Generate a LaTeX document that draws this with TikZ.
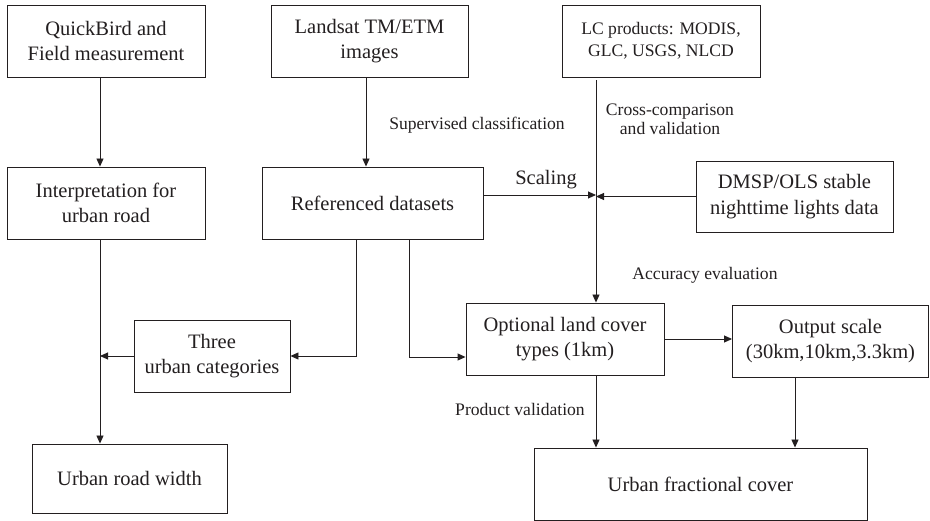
\documentclass[tikz,border=0pt]{standalone}
\usepackage{fontspec}
\setmainfont{Liberation Serif}
\usetikzlibrary{arrows.meta,calc}
\definecolor{ink}{RGB}{35,31,32}
\tikzset{
  box/.style={draw=ink, line width=0.9pt, rectangle, inner sep=0pt, align=center,
    text=ink, font=\fontsize{20.5}{25.5}\selectfont},
  smallbox/.style={box, font=\fontsize{17.6}{22}\selectfont},
  lbl/.style={text=ink, align=center, inner sep=0pt, font=\fontsize{17.6}{19}\selectfont},
  biglbl/.style={text=ink, inner sep=0pt, font=\fontsize{20.5}{25.5}\selectfont},
  conn/.style={draw=ink, line width=0.9pt},
  arr/.style={conn, -{Triangle[length=8pt,width=7pt]}}
}
\begin{document}
\begin{tikzpicture}[x=1pt,y=-1pt]
\useasboundingbox (0,0) rectangle (930,521);
\node[box, minimum width=198pt, minimum height=72pt] (b1) at (106,41) {QuickBird and\\Field measurement};
\node[box, minimum width=197pt, minimum height=72pt] (b2) at (369.5,41) {Landsat TM/ETM\\images};
\node[smallbox, minimum width=198pt, minimum height=72pt] (b3) at (661,41) {LC products: MODIS,\\GLC, USGS, NLCD};
\node[box, minimum width=198pt, minimum height=72pt] (b4) at (106,203) {Interpretation for\\urban road};
\node[box, minimum width=221pt, minimum height=72pt] (b5) at (372.5,203) {Referenced datasets};
\node[box, minimum width=197pt, minimum height=71pt] (b6) at (794.5,196.5) {DMSP/OLS stable\\nighttime lights data};
\node[box, minimum width=156pt, minimum height=72pt] (b7) at (212,356) {Three\\urban categories};
\node[box, minimum width=195pt, minimum height=69pt] (b8) at (129.5,478.5) {Urban road width};
\node[box, minimum width=198pt, minimum height=72pt] (b9) at (565,339) {Optional land cover\\types (1km)};
\node[box, minimum width=196pt, minimum height=72pt] (b10) at (830.5,341) {Output scale\\(30km,10km,3.3km)};
\node[box, minimum width=333pt, minimum height=72pt] (b11) at (700.5,484) {Urban fractional cover};

% coordinates
\coordinate (lx) at ([xshift=-6pt]b1.south);
\coordinate (vx) at ([xshift=-65pt,yshift=-3pt]b3.south);
\coordinate (sy) at ([yshift=8pt]b5.east);
\coordinate (jn) at (vx |- sy);

% left column
\draw[arr] (lx) -- (lx |- b4.north);
\draw[arr] ([xshift=-6pt]b4.south) -- ([xshift=-6pt]b4.south |- b8.north);
\draw[arr] (b7.west) -- (b7.west -| lx);
% from referenced datasets
\draw[arr] ([xshift=-16.5pt]b5.south) |- (b7.east);
\draw[arr] ([xshift=36.5pt]b5.south) |- ([yshift=-18pt]b9.west);
\draw[arr] (b2.south) ++(-3.5,0) coordinate (s2) -- (s2 |- b5.north);
% vertical main line
\draw[arr] (vx) -- (vx |- b9.north);
\draw[arr] (sy) -- (jn);
\draw[arr] (b6.west) -- (b6.west -| vx);
\draw[arr] (b9.east) -- (b9.east -| b10.west);
\draw[arr] (vx |- b9.south) -- (vx |- b11.north);
\draw[arr] ([xshift=-35.5pt]b10.south) -- ([xshift=-35.5pt]b10.south |- b11.north);

% labels
\node[lbl] (lsup) at (477,125) {Supervised classification};
\node[lbl] (lcross) at (670,119) {Cross-comparison\\and validation};
\node[biglbl] (lscal) at (546,180) {Scaling};
\node[lbl] (lacc) at (705,275) {Accuracy evaluation};
\node[lbl] (lprod) at (520,409) {Product validation};
\end{tikzpicture}
\end{document}
